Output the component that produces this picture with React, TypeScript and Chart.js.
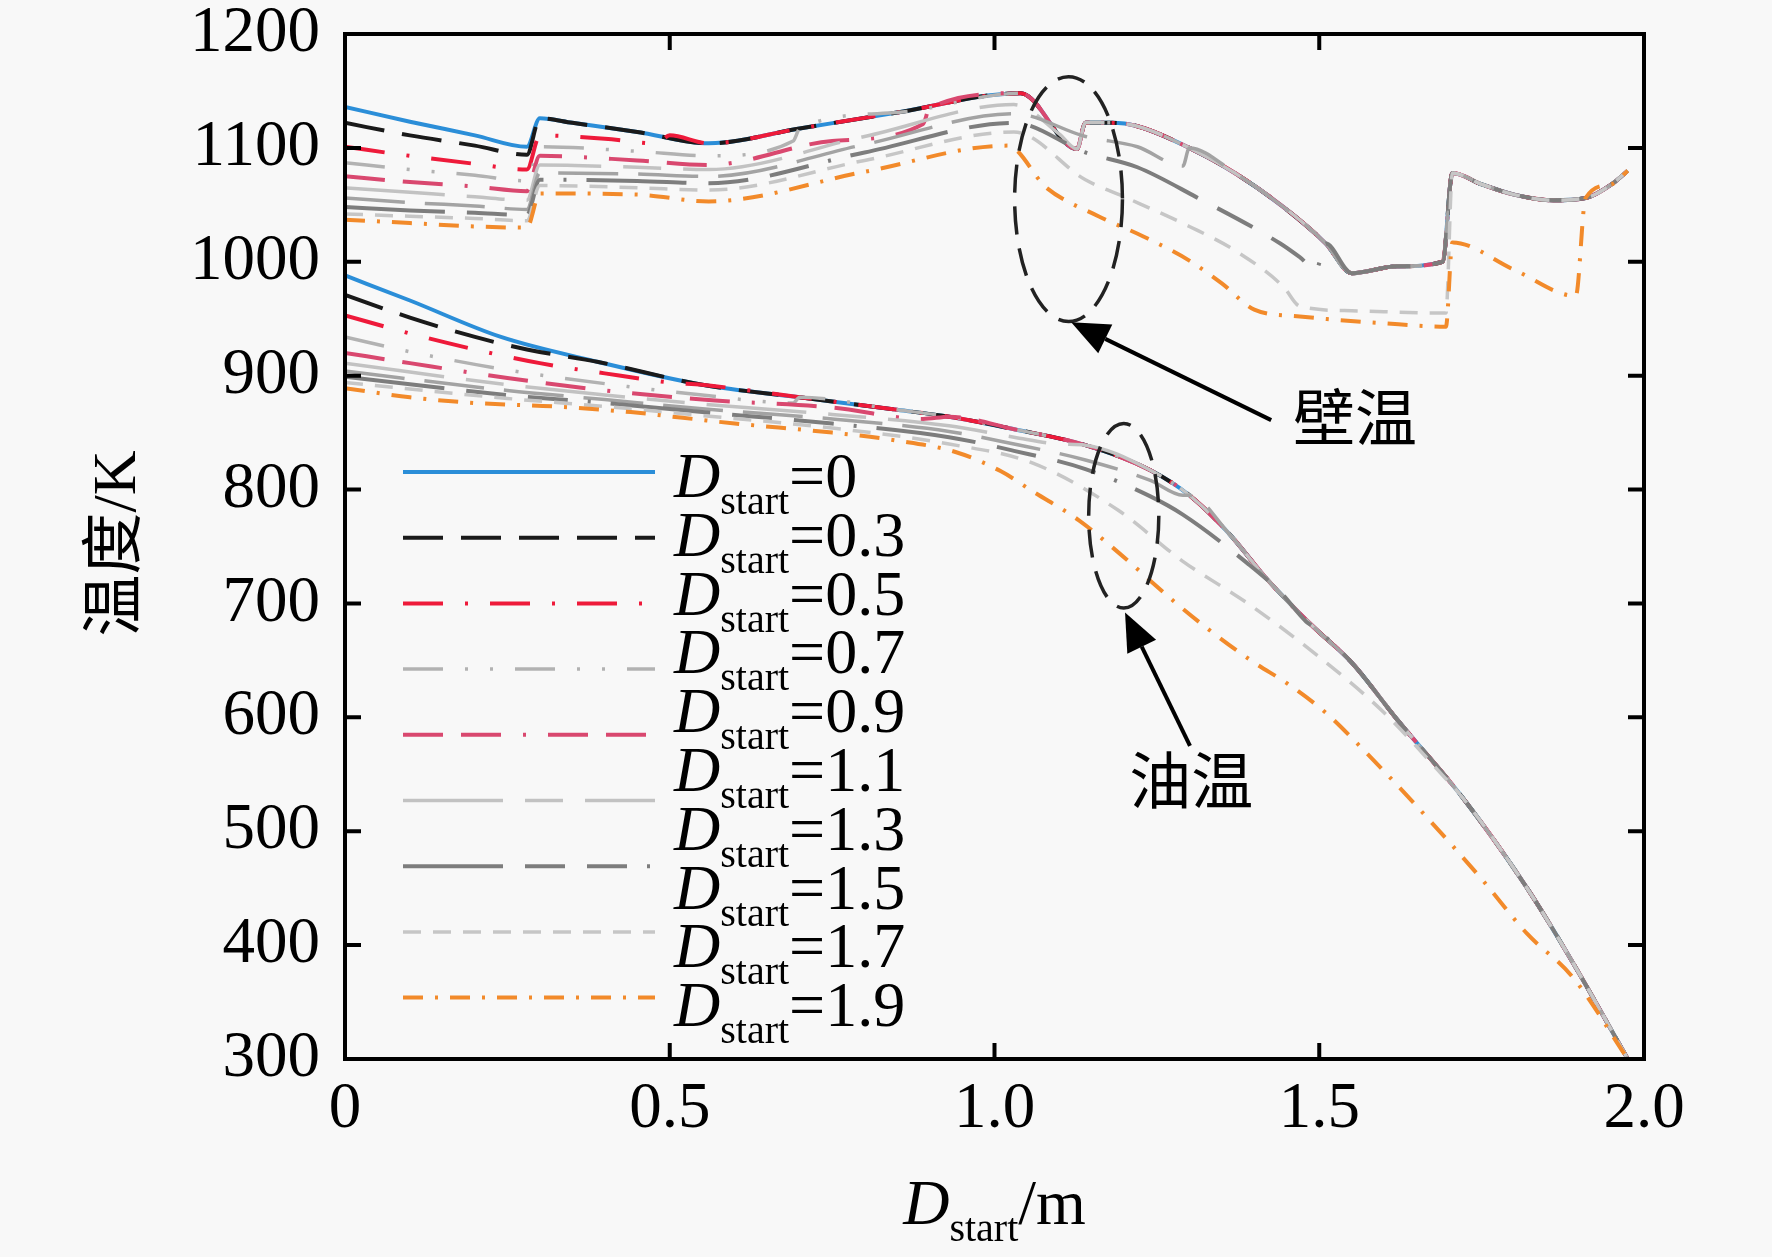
import React, { useEffect, useRef } from 'react';
import { Chart, registerables } from 'chart.js';
import type { Plugin } from 'chart.js';

Chart.register(...registerables);

const SERIF = "'Liberation Serif', 'Times New Roman', 'Noto Sans CJK SC', serif";

// D_start values, one entry per series
const SERIES_LABELS = ['0', '0.3', '0.5', '0.7', '0.9', '1.1', '1.3', '1.5', '1.7', '1.9'];

// common wall temperature curve (D_start = 0), K
const MAIN_WALL_X = [0, 0.1, 0.2, 0.28, 0.3, 0.35, 0.45, 0.56, 0.7, 0.85, 1.04, 1.127, 1.14, 1.18, 1.22, 1.3, 1.37, 1.445, 1.51, 1.55, 1.62, 1.69, 1.705, 1.75, 1.8, 1.86, 1.91, 1.95, 1.975];
const MAIN_WALL_T = [1136, 1123, 1111, 1101, 1126, 1122, 1114, 1104, 1117, 1131, 1148, 1099, 1122, 1122, 1119, 1100, 1078, 1048, 1016, 990, 996, 1000, 1078, 1068, 1059, 1054, 1056, 1068, 1080];

// common oil temperature curve (D_start = 0), K
const MAIN_OIL_X = [0, 0.1, 0.24, 0.39, 0.55, 0.7, 0.85, 0.93, 1.03, 1.14, 1.24, 1.3, 1.36, 1.42, 1.49, 1.55, 1.62, 1.72, 1.82, 1.89, 1.975];
const MAIN_OIL_T = [988, 966, 934, 912, 892, 881, 870, 864, 853, 839, 817, 795, 762, 721, 680, 648, 598, 530, 450, 385, 300];

// wall temperature before each series joins the common curve
const WALL_03_X = [0, 0.1, 0.2, 0.28];
const WALL_03_T = [1122, 1111, 1102, 1094];
const WALL_05_X = [0, 0.1, 0.2, 0.28, 0.3, 0.4, 0.48, 0.5];
const WALL_05_T = [1101, 1093, 1086, 1081, 1111, 1108, 1104, 1111];
const WALL_07_X = [0, 0.1, 0.2, 0.28, 0.3, 0.45, 0.56, 0.69, 0.7];
const WALL_07_T = [1087, 1081, 1076, 1071, 1101, 1097, 1093, 1106, 1117];
const WALL_09_X = [0, 0.1, 0.2, 0.28, 0.3, 0.45, 0.56, 0.75, 0.89, 0.9];
const WALL_09_T = [1075, 1070, 1066, 1062, 1093, 1089, 1085, 1106, 1121, 1135];
const WALL_11_X = [0, 0.1, 0.2, 0.28, 0.3, 0.45, 0.56, 0.8, 1.03, 1.1];
const WALL_11_T = [1065, 1061, 1057, 1054, 1085, 1083, 1081, 1110, 1138, 1112];
const WALL_13_X = [0, 0.1, 0.2, 0.28, 0.3, 0.45, 0.56, 0.8, 1.03, 1.14, 1.22, 1.29];
const WALL_13_T = [1056, 1052, 1049, 1046, 1078, 1077, 1075, 1103, 1130, 1110, 1101, 1084];
const WALL_15_X = [0, 0.1, 0.2, 0.28, 0.3, 0.45, 0.56, 0.8, 1.03, 1.14, 1.22, 1.31, 1.44, 1.47, 1.495];
const WALL_15_T = [1048, 1045, 1043, 1041, 1072, 1071, 1069, 1096, 1122, 1096, 1083, 1057, 1016, 1004, 993];
const WALL_17_X = [0, 0.1, 0.2, 0.28, 0.3, 0.45, 0.56, 0.8, 1.03, 1.14, 1.2, 1.3, 1.37, 1.445, 1.47, 1.55, 1.695];
const WALL_17_T = [1042, 1040, 1038, 1036, 1067, 1065, 1063, 1089, 1114, 1072, 1057, 1031, 1010, 978, 961, 957, 955];
const WALL_19_X = [0, 0.1, 0.2, 0.28, 0.3, 0.45, 0.56, 0.8, 1.02, 1.08, 1.16, 1.23, 1.3, 1.35, 1.4, 1.47, 1.6, 1.695, 1.705, 1.8, 1.895];
const WALL_19_T = [1037, 1034, 1031, 1030, 1060, 1059, 1053, 1079, 1102, 1065, 1040, 1022, 1001, 981, 958, 952, 946, 943, 1017, 993, 970];

// oil temperature before each series joins the common curve
const OIL_03_X = [0, 0.1, 0.2, 0.28];
const OIL_03_T = [971, 951, 934, 923];
const OIL_05_X = [0, 0.1, 0.2, 0.3, 0.4, 0.5];
const OIL_05_T = [953, 937, 923, 911, 902, 894];
const OIL_07_X = [0, 0.1, 0.25, 0.4, 0.55, 0.69];
const OIL_07_T = [934, 921, 905, 893, 883, 876];
const OIL_09_X = [0, 0.1, 0.25, 0.4, 0.55, 0.75, 0.89];
const OIL_09_T = [920, 911, 898, 887, 879, 872, 862];
const OIL_11_X = [0, 0.25, 0.4, 0.55, 0.75, 0.93, 1.03, 1.1];
const OIL_11_T = [911, 892, 883, 875, 866, 856, 846, 840];
const OIL_13_X = [0, 0.25, 0.4, 0.55, 0.75, 0.93, 1.03, 1.14, 1.24, 1.29];
const OIL_13_T = [904, 887, 879, 871, 862, 851, 840, 826, 808, 795];
const OIL_15_X = [0, 0.25, 0.4, 0.55, 0.75, 0.93, 1.03, 1.14, 1.24, 1.29, 1.39, 1.44, 1.48];
const OIL_15_T = [899, 883, 876, 868, 858, 846, 834, 818, 794, 778, 735, 710, 684];
const OIL_17_X = [0, 0.25, 0.4, 0.55, 0.75, 0.93, 1.06, 1.19, 1.29, 1.39, 1.5, 1.6, 1.69];
const OIL_17_T = [894, 880, 873, 865, 854, 840, 823, 782, 737, 700, 653, 604, 549];
const OIL_19_X = [0, 0.1, 0.2, 0.32, 0.44, 0.52, 0.6, 0.75, 0.85, 0.94, 1.01, 1.06, 1.13, 1.18, 1.28, 1.33, 1.4, 1.45, 1.51, 1.55, 1.65, 1.75, 1.82, 1.89];
const OIL_19_T = [889, 881, 876, 873, 868, 863, 858, 850, 843, 833, 816, 798, 773, 750, 700, 677, 648, 630, 604, 582, 522, 458, 410, 372];

const WALL_LOWER_X = [[], WALL_03_X, WALL_05_X, WALL_07_X, WALL_09_X, WALL_11_X, WALL_13_X, WALL_15_X, WALL_17_X, WALL_19_X];
const WALL_LOWER_T = [[], WALL_03_T, WALL_05_T, WALL_07_T, WALL_09_T, WALL_11_T, WALL_13_T, WALL_15_T, WALL_17_T, WALL_19_T];
const OIL_LOWER_X = [[], OIL_03_X, OIL_05_X, OIL_07_X, OIL_09_X, OIL_11_X, OIL_13_X, OIL_15_X, OIL_17_X, OIL_19_X];
const OIL_LOWER_T = [[], OIL_03_T, OIL_05_T, OIL_07_T, OIL_09_T, OIL_11_T, OIL_13_T, OIL_15_T, OIL_17_T, OIL_19_T];

// line styles
const SERIES_COLORS = ['#2b8ed8', '#1a1a1a', '#ee1a3a', '#b2b2b2', '#d9486f', '#c2c2c2', '#a3a3a3', '#7d7d7d', '#c6c6c6', '#f28a2a'];
const SERIES_DASHES = [
  [],
  [40, 18],
  [40, 22, 3, 22],
  [40, 22, 3, 22, 3, 22],
  [40, 18, 40, 22, 3, 22],
  [100, 22, 38, 22],
  [60, 20],
  [100, 22, 40, 22, 40, 20, 3, 20],
  [18, 12],
  [20, 12, 3, 12],
];
const SERIES_WIDTHS = [4, 4, 4, 3.5, 4, 3.5, 3.5, 4, 3.5, 4];
// the reference legend shows nine line samples beside ten labels
const LEGEND_SAMPLES = [0, 1, 2, 3, 4, 5, 7, 8, 9];

// annotations, in data units
const WALL_RING = { x: 1.114, t: 1055, rx: 0.083, rt: 107.5 };
const OIL_RING = { x: 1.199, t: 777, rx: 0.054, rt: 81 };
const WALL_ARROW = { x1: 1.426, t1: 861, x2: 1.118, t2: 947 };
const OIL_ARROW = { x1: 1.301, t1: 575, x2: 1.201, t2: 692 };
const WALL_TEXT = { x: 1.555, t: 857, text: '壁温' };
const OIL_TEXT = { x: 1.303, t: 538, text: '油温' };

const joinMain = (lx: number[], ly: number[], mx: number[], my: number[]) => {
  const pts = lx.map((x, i) => ({ x, y: ly[i] }));
  const last = lx.length ? lx[lx.length - 1] : -1;
  mx.forEach((x, i) => {
    if (x > last) pts.push({ x, y: my[i] });
  });
  return pts;
};

const drawSubscripted = (ctx: CanvasRenderingContext2D, x: number, baseline: number, rest: string) => {
  ctx.textAlign = 'left';
  ctx.textBaseline = 'alphabetic';
  ctx.font = `italic 64px ${SERIF}`;
  ctx.fillText('D', x, baseline);
  let w = ctx.measureText('D').width;
  ctx.font = `40px ${SERIF}`;
  ctx.fillText('start', x + w, baseline + 17);
  w += ctx.measureText('start').width;
  ctx.font = `64px ${SERIF}`;
  ctx.fillText(rest, x + w, baseline);
};

const subscriptedWidth = (ctx: CanvasRenderingContext2D, rest: string) => {
  ctx.font = `italic 64px ${SERIF}`;
  let w = ctx.measureText('D').width;
  ctx.font = `40px ${SERIF}`;
  w += ctx.measureText('start').width;
  ctx.font = `64px ${SERIF}`;
  return w + ctx.measureText(rest).width;
};

const decorPlugin: Plugin = {
  id: 'decor',
  afterDraw(chart) {
    const { ctx, chartArea: a } = chart;
    const xs = chart.scales.x;
    const ys = chart.scales.y;
    const px = (v: number) => xs.getPixelForValue(v);
    const py = (v: number) => ys.getPixelForValue(v);
    ctx.save();
    ctx.strokeStyle = '#000';
    ctx.fillStyle = '#000';
    ctx.setLineDash([]);

    // frame and inward ticks on all sides
    ctx.lineWidth = 4;
    ctx.strokeRect(a.left, a.top, a.right - a.left, a.bottom - a.top);
    ctx.beginPath();
    xs.ticks.forEach((t) => {
      const x = px(t.value);
      ctx.moveTo(x, a.bottom);
      ctx.lineTo(x, a.bottom - 16);
      ctx.moveTo(x, a.top);
      ctx.lineTo(x, a.top + 16);
    });
    ys.ticks.forEach((t) => {
      const y = py(t.value);
      ctx.moveTo(a.left, y);
      ctx.lineTo(a.left + 16, y);
      ctx.moveTo(a.right, y);
      ctx.lineTo(a.right - 16, y);
    });
    ctx.stroke();

    // legend
    LEGEND_SAMPLES.forEach((s, i) => {
      const y = a.top + 438 + i * 65.7;
      ctx.strokeStyle = SERIES_COLORS[s];
      ctx.lineWidth = SERIES_WIDTHS[s];
      ctx.setLineDash(SERIES_DASHES[s]);
      ctx.beginPath();
      ctx.moveTo(a.left + 58, y);
      ctx.lineTo(a.left + 310, y);
      ctx.stroke();
    });
    ctx.setLineDash([]);
    ctx.fillStyle = '#000';
    SERIES_LABELS.forEach((label, i) => {
      drawSubscripted(ctx, a.left + 329, a.top + 463 + i * 58.8, `=${label}`);
    });

    // axis titles
    const xtw = subscriptedWidth(ctx, '/m');
    drawSubscripted(ctx, (a.left + a.right) / 2 - xtw / 2, a.bottom + 165, '/m');
    ctx.save();
    ctx.translate(119, (a.top + a.bottom) / 2 - 3);
    ctx.rotate(-Math.PI / 2);
    ctx.font = `62px ${SERIF}`;
    ctx.textAlign = 'center';
    ctx.textBaseline = 'middle';
    ctx.fillText('温度/K', 0, 0);
    ctx.restore();

    // dashed rings
    ctx.strokeStyle = '#222';
    ctx.lineWidth = 3.5;
    ctx.setLineDash([28, 14]);
    [WALL_RING, OIL_RING].forEach((r) => {
      const cx = px(r.x);
      const cy = py(r.t);
      ctx.beginPath();
      ctx.ellipse(cx, cy, px(r.x + r.rx) - cx, cy - py(r.t + r.rt), 0, 0, Math.PI * 2);
      ctx.stroke();
    });
    ctx.setLineDash([]);

    // arrows
    ctx.strokeStyle = '#000';
    ctx.lineWidth = 4;
    [WALL_ARROW, OIL_ARROW].forEach((ar) => {
      const x1 = px(ar.x1), y1 = py(ar.t1), x2 = px(ar.x2), y2 = py(ar.t2);
      const ang = Math.atan2(y2 - y1, x2 - x1);
      const L = 38, W = 16;
      const bx = x2 - L * Math.cos(ang), by = y2 - L * Math.sin(ang);
      ctx.beginPath();
      ctx.moveTo(x1, y1);
      ctx.lineTo(bx, by);
      ctx.stroke();
      ctx.beginPath();
      ctx.moveTo(x2, y2);
      ctx.lineTo(bx - W * Math.sin(ang), by + W * Math.cos(ang));
      ctx.lineTo(bx + W * Math.sin(ang), by - W * Math.cos(ang));
      ctx.closePath();
      ctx.fill();
    });

    // annotation labels
    ctx.font = `62px ${SERIF}`;
    ctx.textAlign = 'center';
    ctx.textBaseline = 'middle';
    [WALL_TEXT, OIL_TEXT].forEach((t) => ctx.fillText(t.text, px(t.x), py(t.t)));

    ctx.restore();
  },
};

const App: React.FC = () => {
  const canvasRef = useRef<HTMLCanvasElement>(null);
  const chartRef = useRef<Chart | null>(null);

  useEffect(() => {
    if (!canvasRef.current) return;
    const ctx = canvasRef.current.getContext('2d');
    if (!ctx) return;
    if (chartRef.current) chartRef.current.destroy();

    const datasets: any[] = [];
    SERIES_LABELS.forEach((label, i) => {
      const style = {
        borderColor: SERIES_COLORS[i],
        borderDash: SERIES_DASHES[i],
        borderWidth: SERIES_WIDTHS[i],
        pointRadius: 0,
        fill: false,
        cubicInterpolationMode: 'monotone',
        order: SERIES_LABELS.length - i, // later series drawn on top
      };
      datasets.push({ label: `Dstart=${label} 壁温`, data: joinMain(WALL_LOWER_X[i], WALL_LOWER_T[i], MAIN_WALL_X, MAIN_WALL_T), ...style });
      datasets.push({ label: `Dstart=${label} 油温`, data: joinMain(OIL_LOWER_X[i], OIL_LOWER_T[i], MAIN_OIL_X, MAIN_OIL_T), ...style });
    });

    const tickFont = { family: SERIF, size: 65, lineHeight: 1 };

    chartRef.current = new Chart(ctx, {
      type: 'line',
      data: { datasets },
      options: {
        responsive: true,
        maintainAspectRatio: false,
        animation: false,
        layout: { padding: { left: 0, top: 34, right: 128, bottom: 0 } },
        plugins: {
          legend: { display: false },
          tooltip: { enabled: false },
        },
        scales: {
          x: {
            type: 'linear',
            min: 0,
            max: 2,
            afterFit: (s: any) => {
              s.height = 198;
              s.paddingLeft = 0;
              s.paddingRight = 0;
            },
            grid: { display: false, drawTicks: false },
            border: { display: false },
            ticks: {
              stepSize: 0.5,
              padding: 18,
              color: '#000',
              maxRotation: 0,
              autoSkip: false,
              font: tickFont,
              callback: (v: any) => (Number(v) === 0 ? '0' : Number(v).toFixed(1)),
            },
          },
          y: {
            type: 'linear',
            min: 300,
            max: 1200,
            afterFit: (s: any) => {
              s.width = 345;
              s.paddingTop = 0;
              s.paddingBottom = 0;
            },
            grid: { display: false, drawTicks: false },
            border: { display: false },
            ticks: {
              stepSize: 100,
              padding: 25,
              color: '#000',
              font: tickFont,
              callback: (v: any) => String(v),
            },
          },
        },
      },
      plugins: [decorPlugin],
    });

    return () => {
      if (chartRef.current) {
        chartRef.current.destroy();
        chartRef.current = null;
      }
    };
  }, []);

  return (
    <div style={{ position: 'absolute', left: 0, top: 0, width: 1772, height: 1257, background: '#f8f8f8' }}>
      <canvas ref={canvasRef}></canvas>
    </div>
  );
};

export default App;
